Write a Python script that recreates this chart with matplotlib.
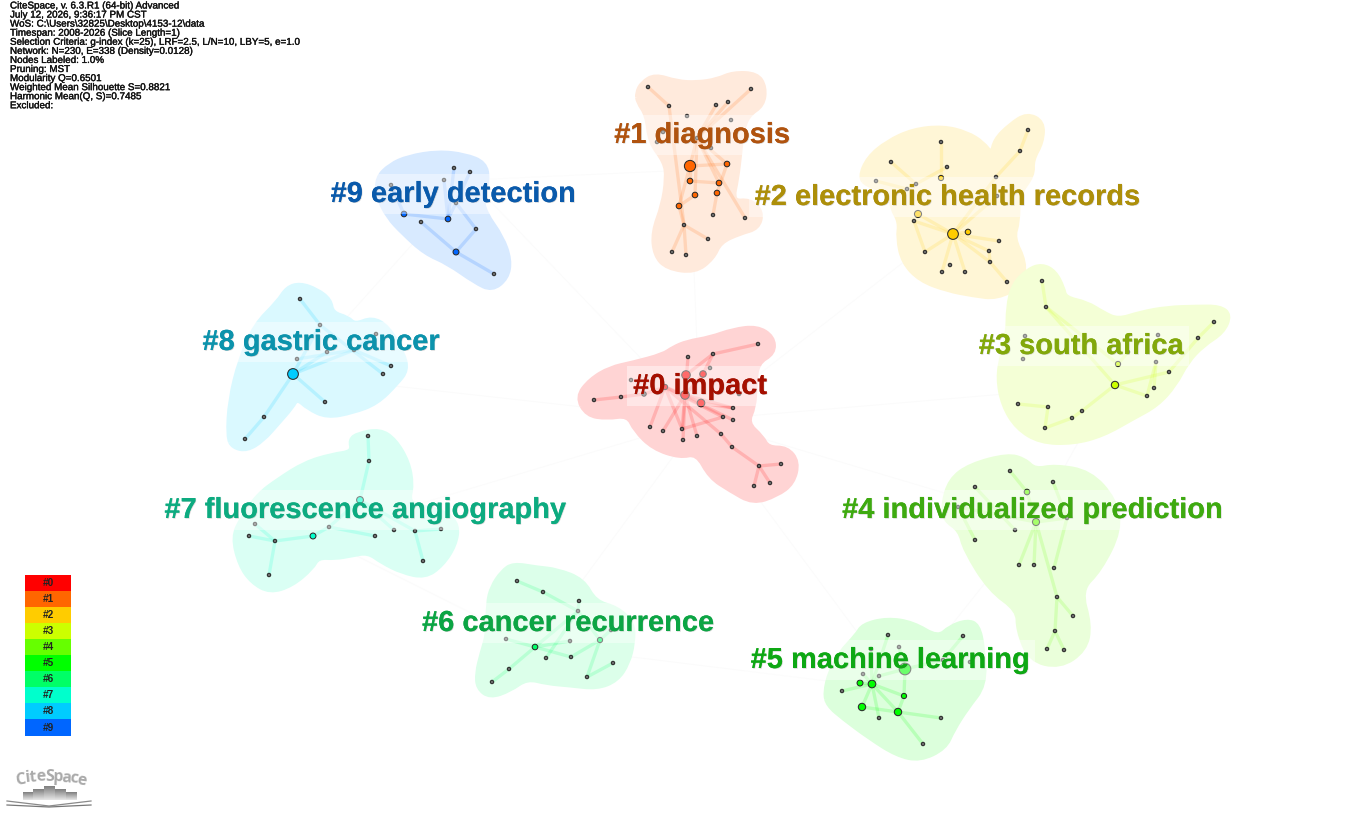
import matplotlib
matplotlib.use('Agg')
import numpy as np
import matplotlib.pyplot as plt
import matplotlib.patheffects as pe
from matplotlib.path import Path
from matplotlib.patches import PathPatch, Rectangle

plt.rcParams['font.family'] = ['Liberation Sans', 'DejaVu Sans']

info_lines = [
    'CiteSpace, v. 6.3.R1 (64-bit) Advanced',
    'July 12, 2026, 9:36:17 PM CST',
    'WoS: C:\\Users\\32825\\Desktop\\4153-12\\data',
    'Timespan: 2008-2026 (Slice Length=1)',
    'Selection Criteria: g-index (k=25), LRF=2.5, L/N=10, LBY=5, e=1.0',
    'Network: N=230, E=338 (Density=0.0128)',
    'Nodes Labeled: 1.0%',
    'Pruning: MST',
    'Modularity Q=0.6501',
    'Weighted Mean Silhouette S=0.8821',
    'Harmonic Mean(Q, S)=0.7485',
    'Excluded:',
]

cluster_names = ['#0 impact', '#1 diagnosis', '#2 electronic health records', '#3 south africa',
                 '#4 individualized prediction', '#5 machine learning', '#6 cancer recurrence',
                 '#7 fluorescence angiography', '#8 gastric cancer', '#9 early detection']
label_xy = [(700, 386), (702, 135), (947, 197), (1081, 346), (1032, 510),
            (890, 660), (568, 623), (365, 510), (321, 342), (453, 194)]
label_colors = ['#a50f00', '#b0530f', '#ad8f0a', '#82a80a', '#3eaa10',
                '#0ea814', '#0ca544', '#0dab80', '#0c93ac', '#0a5aab']
cluster_colors = ['#ff0000', '#ff6600', '#ffcc00', '#ccff00', '#66ff00',
                  '#00ff00', '#00ff66', '#00ffcc', '#00ccff', '#0066ff']
hull_colors = ['#ffd4d4', '#ffeadc', '#fff6d6', '#f4ffd6', '#eaffda',
               '#dcffdc', '#dcffea', '#daffF4', '#daf9ff', '#d8eaff']

# node positions, links, hull outlines (picture pixels), one set per cluster
nodes_0 = [(594, 400), (621, 397), (631, 380), (644, 394), (665, 387), (685, 395), (686, 375), (688, 357),
           (703, 374), (710, 368), (713, 354), (758, 344), (701, 403), (733, 408), (723, 417), (733, 420),
           (739, 394), (650, 427), (663, 431), (682, 429), (683, 440), (697, 436), (721, 434), (732, 447),
           (759, 466), (781, 464), (770, 483), (754, 486)]
edges_0 = [(0, 1), (1, 3), (3, 4), (4, 5), (11, 10), (10, 6), (10, 8), (7, 5), (4, 17), (5, 18), (4, 19),
           (5, 19), (5, 20), (5, 21), (5, 12), (12, 13), (5, 13), (4, 14), (4, 15), (19, 14), (4, 22),
           (22, 23), (23, 24), (24, 25), (24, 26), (24, 27), (6, 5), (8, 5)]
hull_0 = [(577, 397), (590, 380), (610, 368), (633, 363), (663, 355), (673, 348), (687, 342), (710, 338),
          (733, 330), (757, 327), (773, 337), (774, 353), (757, 363), (755, 387), (754, 407), (747, 423),
          (762, 437), (768, 448), (787, 448), (798, 462), (793, 483), (777, 495), (753, 503), (730, 490),
          (710, 477), (697, 453), (680, 457), (653, 448), (635, 430), (628, 415), (607, 418), (587, 415)]
freq_0 = {5: 38, 6: 38, 8: 22, 12: 30, 3: 10, 4: 14}

nodes_1 = [(648, 87), (669, 106), (687, 116), (716, 105), (728, 102), (751, 89), (731, 120), (663, 132),
           (657, 142), (697, 138), (711, 148), (690, 166), (727, 164), (690, 181), (719, 183), (717, 193),
           (695, 195), (679, 206), (713, 215), (745, 218), (684, 225), (708, 239), (672, 252), (686, 255)]
edges_1 = [(0, 1), (1, 20), (5, 9), (4, 9), (3, 9), (11, 9), (11, 12), (11, 13), (13, 14), (9, 12), (9, 14),
           (15, 18), (12, 15), (9, 19), (11, 17), (17, 20), (16, 17), (20, 22), (20, 23), (20, 21), (9, 16)]
hull_1 = [(637, 93), (642, 83), (655, 75), (677, 82), (697, 83), (717, 80), (733, 73), (757, 74), (765, 87),
          (763, 105), (748, 115), (742, 132), (740, 152), (737, 178), (732, 202), (750, 200), (762, 212),
          (758, 228), (740, 233), (720, 242), (713, 258), (695, 272), (667, 268), (655, 255), (653, 232),
          (663, 205), (667, 178), (665, 162), (650, 142), (647, 115), (638, 102)]
freq_1 = {11: 65, 12: 16, 13: 16, 14: 16, 15: 16, 16: 16, 17: 16}

nodes_2 = [(1028, 130), (1020, 151), (941, 142), (891, 162), (947, 167), (941, 178), (996, 177), (876, 181),
           (916, 184), (907, 189), (997, 196), (918, 214), (914, 221), (953, 234), (968, 232), (999, 241),
           (989, 251), (925, 252), (990, 262), (950, 265), (942, 272), (965, 272), (1007, 282)]
edges_2 = [(0, 1), (1, 6), (6, 13), (10, 13), (2, 5), (3, 8), (7, 9), (8, 4), (8, 9), (11, 13), (12, 13),
           (12, 17), (17, 13), (13, 14), (13, 15), (13, 16), (13, 18), (13, 20), (13, 21), (18, 22), (16, 18)]
hull_2 = [(860, 177), (868, 158), (887, 142), (913, 130), (943, 127), (967, 133), (983, 143), (992, 155),
          (995, 140), (1010, 125), (1027, 114), (1043, 122), (1042, 142), (1032, 160), (1033, 175), (1018, 195),
          (1018, 222), (1013, 238), (1025, 262), (1022, 285), (997, 298), (973, 295), (947, 290), (920, 280),
          (903, 262), (898, 238), (900, 222), (892, 208), (890, 192), (867, 185)]
freq_2 = {13: 60, 11: 26, 14: 16, 5: 14}

nodes_3 = [(1042, 281), (1046, 307), (1025, 336), (1023, 359), (1158, 335), (1214, 322), (1198, 338),
           (1118, 364), (1156, 362), (1169, 372), (1115, 385), (1154, 388), (1147, 396), (1018, 404),
           (1048, 407), (1082, 411), (1072, 418), (1045, 428), (1128, 352)]
edges_3 = [(0, 1), (1, 10), (2, 3), (5, 6), (6, 9), (9, 10), (7, 18), (10, 12), (8, 11), (8, 12), (10, 15),
           (15, 16), (16, 17), (14, 17), (13, 14), (1, 7)]
hull_3 = [(1008, 308), (1013, 285), (1028, 270), (1042, 265), (1055, 272), (1063, 288), (1065, 298), (1087, 303),
          (1103, 313), (1118, 320), (1140, 313), (1167, 308), (1197, 307), (1220, 307), (1230, 315), (1223, 332),
          (1203, 345), (1187, 362), (1175, 385), (1157, 405), (1133, 418), (1103, 435), (1073, 443), (1040, 442),
          (1017, 428), (1003, 405), (998, 378), (1002, 355), (1008, 332)]
freq_3 = {10: 28, 7: 14}

nodes_4 = [(1010, 471), (1053, 482), (975, 487), (1027, 492), (958, 507), (1067, 518), (1036, 522), (1015, 530),
           (975, 540), (1019, 565), (1034, 565), (1054, 568), (1057, 597), (1073, 616), (1055, 631), (1047, 649),
           (1064, 650)]
edges_4 = [(0, 3), (3, 6), (2, 7), (4, 8), (1, 5), (5, 11), (4, 6), (6, 9), (6, 10), (6, 12), (12, 13), (12, 14),
           (14, 15), (14, 16), (5, 6)]
hull_4 = [(1120, 530), (1100, 570), (1080, 590), (1090, 625), (1085, 650), (1060, 667), (1030, 660), (1018, 630),
          (1018, 610), (990, 590), (965, 550), (960, 530), (945, 520), (943, 505), (950, 480), (970, 465),
          (1008, 455), (1025, 460), (1035, 470), (1055, 466), (1090, 472), (1115, 500)]
freq_4 = {6: 26, 3: 16}

nodes_5 = [(888, 635), (963, 636), (899, 647), (871, 649), (943, 660), (970, 662), (905, 669), (863, 674),
           (879, 676), (860, 683), (872, 684), (842, 691), (904, 696), (862, 707), (898, 712), (879, 718),
           (941, 718), (923, 744)]
edges_5 = [(0, 10), (1, 4), (4, 6), (6, 8), (6, 12), (8, 10), (7, 10), (9, 10), (11, 10), (10, 12), (10, 13),
           (10, 14), (13, 14), (12, 14), (14, 16), (14, 17), (10, 15), (2, 6), (3, 10)]
hull_5 = [(825, 693), (830, 672), (840, 653), (857, 635), (863, 625), (887, 619), (913, 623), (938, 638),
          (950, 627), (967, 621), (978, 625), (983, 648), (985, 685), (967, 708), (953, 730), (945, 748),
          (920, 760), (897, 755), (870, 738), (843, 718), (828, 705)]
freq_5 = {6: 70, 10: 30, 13: 28, 14: 28, 9: 18, 12: 14}

nodes_6 = [(517, 581), (543, 592), (579, 601), (578, 611), (611, 630), (506, 639), (570, 641), (600, 640),
           (535, 647), (546, 658), (571, 657), (613, 663), (509, 669), (587, 677), (492, 682)]
edges_6 = [(0, 1), (1, 3), (2, 3), (3, 7), (3, 8), (4, 7), (5, 8), (8, 6), (8, 10), (9, 3), (10, 7), (7, 13),
           (11, 13), (8, 12), (12, 14)]
hull_6 = [(488, 603), (492, 587), (502, 572), (513, 564), (537, 568), (557, 570), (583, 580), (595, 602),
          (617, 608), (633, 623), (633, 643), (628, 663), (617, 680), (597, 688), (570, 685), (547, 683),
          (527, 678), (510, 690), (490, 697), (478, 688), (477, 673), (482, 653), (488, 633)]
freq_6 = {8: 16, 7: 14}

nodes_7 = [(368, 436), (369, 461), (360, 500), (255, 524), (249, 536), (275, 541), (313, 536), (329, 527),
           (375, 536), (394, 530), (415, 531), (441, 529), (423, 561), (269, 575)]
edges_7 = [(0, 1), (1, 2), (2, 7), (2, 9), (2, 10), (3, 5), (4, 5), (5, 6), (6, 7), (7, 8), (5, 13), (10, 11),
           (10, 12)]
hull_7 = [(233, 537), (242, 518), (258, 495), (278, 480), (305, 463), (332, 455), (353, 452), (350, 440),
          (358, 434), (380, 430), (395, 440), (408, 462), (412, 485), (408, 502), (422, 507), (445, 512),
          (458, 525), (455, 545), (442, 565), (425, 577), (402, 572), (382, 562), (368, 552), (352, 555),
          (335, 558), (318, 557), (312, 568), (292, 585), (270, 592), (252, 582), (240, 565)]
freq_7 = {2: 24, 6: 18}

nodes_8 = [(300, 299), (320, 325), (376, 334), (327, 352), (297, 359), (354, 350), (391, 366), (383, 374),
           (293, 374), (325, 402), (264, 417), (245, 439)]
edges_8 = [(0, 1), (1, 7), (8, 5), (8, 3), (4, 5), (5, 6), (8, 9), (8, 10), (10, 11), (8, 1), (2, 5)]
hull_8 = [(228, 437), (230, 400), (240, 360), (255, 325), (278, 302), (287, 288), (300, 284), (317, 290),
          (330, 300), (332, 313), (348, 318), (355, 325), (372, 318), (388, 327), (403, 353), (407, 370),
          (397, 383), (377, 403), (353, 412), (327, 417), (308, 408), (297, 398), (292, 407), (278, 423),
          (263, 440), (247, 450), (233, 447)]
freq_8 = {8: 60}

nodes_9 = [(454, 168), (470, 172), (444, 180), (391, 185), (456, 203), (404, 214), (448, 219), (421, 222),
           (476, 229), (456, 252), (494, 274)]
edges_9 = [(1, 4), (2, 6), (3, 5), (5, 6), (4, 6), (4, 8), (8, 9), (7, 9), (9, 10), (0, 6)]
hull_9 = [(377, 178), (390, 165), (408, 157), (438, 152), (465, 155), (485, 163), (488, 180), (482, 197),
          (485, 213), (502, 237), (510, 260), (507, 278), (492, 290), (475, 282), (448, 263), (425, 253),
          (403, 233), (388, 217), (378, 197)]
freq_9 = {5: 16, 6: 16, 9: 18}

all_nodes = [nodes_0, nodes_1, nodes_2, nodes_3, nodes_4, nodes_5, nodes_6, nodes_7, nodes_8, nodes_9]
all_edges = [edges_0, edges_1, edges_2, edges_3, edges_4, edges_5, edges_6, edges_7, edges_8, edges_9]
all_hulls = [hull_0, hull_1, hull_2, hull_3, hull_4, hull_5, hull_6, hull_7, hull_8, hull_9]
all_freq = [freq_0, freq_1, freq_2, freq_3, freq_4, freq_5, freq_6, freq_7, freq_8, freq_9]

# very faint links between clusters
web_links = [(700, 420, 470, 180), (700, 420, 945, 230), (700, 420, 690, 170), (700, 420, 1110, 385),
             (700, 420, 1035, 520), (700, 420, 900, 690), (700, 420, 535, 645), (700, 420, 315, 535),
             (700, 420, 295, 375), (535, 645, 900, 690), (1035, 520, 900, 690), (945, 230, 1110, 385),
             (1110, 385, 1035, 520), (470, 180, 690, 170), (295, 375, 470, 180), (315, 535, 535, 645)]

legend_labels = ['#0', '#1', '#2', '#3', '#4', '#5', '#6', '#7', '#8', '#9']
logo_letters = list('CiteSpace')
logo_x = [20, 28, 33, 41, 50, 58, 66, 74, 82]
logo_y = [780, 778, 778, 777, 777, 777, 778, 779, 781]
logo_rot = [9, 6, 5, 3, 0, -2, -4, -7, -9]
logo_bar_x = [23, 33, 44, 55, 66]
logo_bar_top = [792, 789, 786, 789, 792]


def blob(points):
    # closed smooth outline, quadratic pieces between the edge midpoints
    pts = np.array(points, dtype=float)
    mids = (pts + np.roll(pts, -1, axis=0)) / 2
    verts = [mids[-1]]
    codes = [Path.MOVETO]
    for p, m in zip(pts, mids):
        verts += [p, m]
        codes += [Path.CURVE3, Path.CURVE3]
    return Path(verts, codes)


fig = plt.figure(figsize=(13.7, 8.14), dpi=100)
ax = fig.add_axes([0, 0, 1, 1])

for x0, y0, x1, y1 in web_links:
    ax.plot([x0, x1], [y0, y1], color='#fbfbfb', lw=0.7, zorder=0.5)

for i in range(10):
    ax.add_patch(PathPatch(blob(all_hulls[i]), fc=hull_colors[i], ec=hull_colors[i], lw=3.5,
                           joinstyle='round', zorder=1))
    nodes = all_nodes[i]
    for a, b in all_edges[i]:
        ax.plot([nodes[a][0], nodes[b][0]], [nodes[a][1], nodes[b][1]], color=cluster_colors[i],
                lw=2.4, alpha=0.16, solid_capstyle='round', zorder=2)
    xs = [p[0] for p in nodes]
    ys = [p[1] for p in nodes]
    sizes = [all_freq[i].get(k, 6) for k in range(len(nodes))]
    faces = [cluster_colors[i] if s >= 14 else '#6f6f6f' for s in sizes]
    ax.scatter(xs, ys, s=sizes, c=faces, edgecolors='#2a2a2a', linewidths=0.75, zorder=3)

for name, (lx, ly), col in zip(cluster_names, label_xy, label_colors):
    ax.text(lx, ly, name, color=col, fontsize=20.9, fontweight='bold', ha='center', va='center', zorder=6,
            bbox=dict(boxstyle='square,pad=0.2', fc='white', ec='none', alpha=0.42),
            path_effects=[pe.withSimplePatchShadow(offset=(0.5, -0.5), shadow_rgbFace='#888888', alpha=0.35),
                          pe.Normal()])

for n, line in enumerate(info_lines):
    ax.text(10, 5.5 + n * 9.07, line, fontsize=7.08, color='#111111', va='center', ha='left', zorder=8,
            path_effects=[pe.withStroke(linewidth=0.25, foreground='#111111')])

# colour legend
for n, (lab, col) in enumerate(zip(legend_labels, cluster_colors)):
    ax.add_patch(Rectangle((25, 574.5 + n * 16.1), 46, 16.1, fc=col, ec='none', zorder=7))
    ax.text(48, 582.7 + n * 16.1, lab, fontsize=7.2, fontweight='bold', color='#222222',
            ha='center', va='center', zorder=8)

# CiteSpace logo
for ch, lx, ly, rot in zip(logo_letters, logo_x, logo_y, logo_rot):
    ax.text(lx, ly, ch, fontsize=11.5, fontweight='bold', color='#aaaaaa', rotation=rot,
            ha='center', va='center', family=['Open Sans', 'DejaVu Sans'], zorder=8)
shade = np.linspace(0.5, 0.9, 32).reshape(-1, 1)
for bx, top in zip(logo_bar_x, logo_bar_top):
    ax.imshow(shade, cmap='gray', vmin=0, vmax=1, extent=(bx, bx + 10.5, 800, top), aspect='auto', zorder=8)
ax.plot([7, 49, 91], [801, 806, 801], color='#8a8a8a', lw=0.9, zorder=8)
ax.plot([7, 49, 91], [805, 807, 805], color='#777777', lw=0.9, zorder=8)

ax.set_xlim(0, 1370)
ax.set_ylim(814, 0)
ax.axis('off')
fig.savefig('out.png', dpi=100, facecolor='white')
